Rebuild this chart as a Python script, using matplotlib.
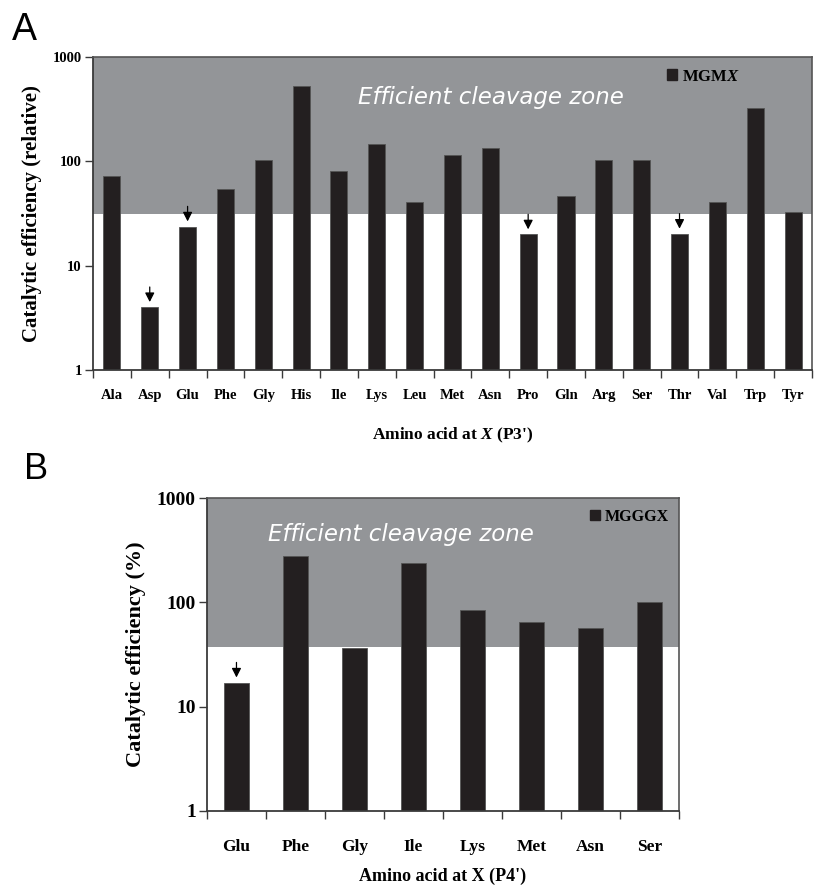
import matplotlib
matplotlib.use("Agg")
import matplotlib.pyplot as plt
from matplotlib.patches import Patch
import numpy as np

plt.rcParams['font.family'] = ['Liberation Serif', 'DejaVu Serif']
plt.rcParams['font.weight'] = 'bold'
plt.rcParams['mathtext.fontset'] = 'custom'
plt.rcParams['mathtext.it'] = 'Liberation Serif:bold:italic'
plt.rcParams['mathtext.rm'] = 'Liberation Serif:bold'

# ---------------- data ----------------
amino_a = ["Ala", "Asp", "Glu", "Phe", "Gly", "His", "Ile", "Lys", "Leu", "Met",
           "Asn", "Pro", "Gln", "Arg", "Ser", "Thr", "Val", "Trp", "Tyr"]
eff_a = [72, 4.0, 23.7, 54, 104, 526, 81, 146, 41, 114,
         133, 19.9, 47, 102, 103, 20.2, 41, 323, 33]
arrows_a = ["Asp", "Glu", "Pro", "Thr"]
zone_a = 31

amino_b = ["Glu", "Phe", "Gly", "Ile", "Lys", "Met", "Asn", "Ser"]
eff_b = [17, 279, 36.7, 240, 85, 65, 57, 101]
arrows_b = ["Glu"]
zone_b = 37.5

yticks = [1, 10, 100, 1000]

BAR = "#231f20"
ZONE = "#939598"
SPINE = "#3a3a3a"

fig = plt.figure(figsize=(8.2, 8.86), dpi=100)


def panel(rect, cats, vals, arrows, zone, width, legend_label, legend_pos, legend_fs,
          zone_text_pos, ylabel, xlabel, tick_fs, ytick_fs, ylabel_fs, xlabel_fs,
          xpad, xlabelpad, zone_fs):
    ax = fig.add_axes(rect)
    n = len(cats)
    x = np.arange(n)
    ax.set_yscale('log')
    ax.set_ylim(1, 1000)
    ax.set_xlim(-0.5, n - 0.5)
    ax.axhspan(zone, 1000, color=ZONE, zorder=0, lw=0)
    ax.bar(x, vals, width=width, color=BAR, edgecolor="#555555", linewidth=0.6, zorder=2)
    for c in arrows:
        i = cats.index(c)
        ax.annotate("", xy=(i, vals[i] * 1.12), xytext=(i, vals[i] * 1.12 * 10 ** (15 / 104)),
                    arrowprops=dict(arrowstyle="-|>,head_length=0.55,head_width=0.28",
                                    color="black", lw=0.9, shrinkA=0, shrinkB=0), zorder=3)
    ax.set_yticks(yticks)
    ax.set_yticklabels([str(v) for v in yticks])
    ax.yaxis.set_minor_locator(matplotlib.ticker.NullLocator())
    ax.set_xticks(np.arange(n + 1) - 0.5)
    ax.set_xticklabels([])
    ax.set_xticks(x, minor=True)
    ax.set_xticklabels(cats, minor=True)
    ax.tick_params(axis='x', which='major', direction='out', length=6, width=1, color=SPINE)
    ax.tick_params(axis='x', which='minor', length=0, pad=xpad, labelsize=tick_fs)
    ax.tick_params(axis='y', which='major', direction='out', length=6, width=1,
                   color=SPINE, labelsize=ytick_fs, pad=2)
    for s in ['left', 'bottom']:
        ax.spines[s].set_color(SPINE)
        ax.spines[s].set_linewidth(1.3)
    for s in ['top', 'right']:
        ax.spines[s].set_color("#555555")
        ax.spines[s].set_linewidth(1.2)
    ax.set_ylabel(ylabel, fontsize=ylabel_fs, fontweight='bold', labelpad=8)
    ax.set_xlabel(xlabel, fontsize=xlabel_fs, fontweight='bold', labelpad=xlabelpad)
    ax.text(zone_text_pos[0], zone_text_pos[1], "Efficient cleavage zone",
            transform=ax.transAxes, ha='center', va='center', color='white',
            fontsize=zone_fs, style='italic', family='DejaVu Sans', fontweight='normal', zorder=4)
    ax.legend(handles=[Patch(facecolor=BAR, edgecolor=BAR)], labels=[legend_label],
              loc='upper left', bbox_to_anchor=legend_pos, frameon=False,
              handlelength=0.6, handleheight=0.6, handletextpad=0.3,
              borderpad=0, borderaxespad=0, prop=dict(family='Liberation Serif',
                                                     weight='bold', size=legend_fs))
    return ax


axA = panel([0.1134, 0.5824, 0.8768, 0.3533], amino_a, eff_a, arrows_a, zone_a, 0.45,
            "MGM$\\it{X}$", (0.798, 0.963), 12, (0.553, 0.872),
            "Catalytic efficiency (relative)", "Amino acid at $\\it{X}$ (P3')",
            10.5, 10.5, 15, 12.5, 14, 17, 16.5)

axB = panel([0.2524, 0.0847, 0.5756, 0.3532], amino_b, eff_b, arrows_b, zone_b, 0.41,
            "MGGGX", (0.812, 0.965), 11.5, (0.411, 0.885),
            "Catalytic efficiency (%)", "Amino acid at X (P4')",
            12.5, 14, 16, 13, 20, 9, 16.5)

fig.text(12 / 820, 1 - 40 / 886, "A", family='Liberation Sans', fontweight='normal', fontsize=27)
fig.text(24 / 820, 1 - 479 / 886, "B", family='Liberation Sans', fontweight='normal', fontsize=26)

fig.savefig("out.png", dpi=100)
